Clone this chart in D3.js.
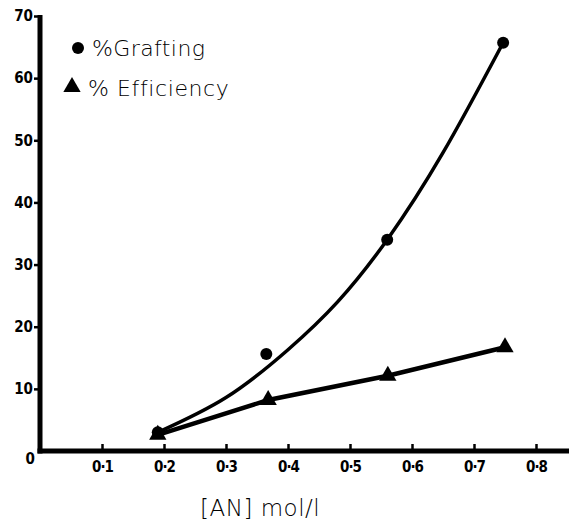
<!DOCTYPE html>
<html>
<head>
<meta charset="utf-8">
<script src="https://cdn.jsdelivr.net/npm/d3@7"></script>
<style>
  body { margin: 0; background: #fff; }
  .tick-label { font-family: "DejaVu Sans Condensed", "DejaVu Sans", sans-serif; font-weight: bold; }
  .legend, .xtitle { font-family: "DejaVu Sans", "Noto Sans", sans-serif; font-weight: 300; }
</style>
</head>
<body>
<div id="chart"></div>
<script>
// values
const anConc = [0.19, 0.365, 0.56, 0.747]
const grafting = [3, 15.6, 34, 65.7]
const effConc = [0.19, 0.368, 0.561, 0.75]
const efficiency = [2.6, 8.2, 12.1, 16.7]

// hand drawn trend curve for grafting
const fitConc = [0.19, 0.3, 0.4, 0.48, 0.56, 0.65, 0.747]
const fitGrafting = [3, 8.6, 16.3, 24.0, 34, 48, 65.7]

const xTicks = [0.1, 0.2, 0.3, 0.4, 0.5, 0.6, 0.7, 0.8]
const yTicks = [10, 20, 30, 40, 50, 60, 70]

const width = 569, height = 520

const svg = d3.select("#chart").append("svg")
  .attr("width", width)
  .attr("height", height)

const x = d3.scaleLinear().domain([0, 0.8]).range([40, 536])
const y = d3.scaleLinear().domain([0, 70]).range([451, 16])

// axes
const xAxis = d3.axisBottom(x)
  .tickValues(xTicks)
  .tickSize(-7)
  .tickPadding(10)
  .tickFormat(d => d3.format(".1f")(d).replace(".", "·"))

const gx = svg.append("g").attr("transform", `translate(0,${y(0)})`).call(xAxis)
gx.select(".domain").remove()
gx.selectAll(".tick line").attr("stroke", "#000").attr("stroke-width", 2.5)
gx.selectAll(".tick text").attr("class", "tick-label").attr("font-size", 15)
  .attr("letter-spacing", -1).attr("fill", "#000")
svg.append("line")
  .attr("x1", x(0) - 2.5).attr("x2", width)
  .attr("y1", y(0)).attr("y2", y(0))
  .attr("stroke", "#000").attr("stroke-width", 5)

const yAxis = d3.axisLeft(y)
  .tickValues(yTicks)
  .tickSize(6)
  .tickPadding(1)

const gy = svg.append("g").attr("transform", `translate(${x(0)},0)`).call(yAxis)
gy.select(".domain").remove()
gy.selectAll(".tick line").attr("stroke", "#000").attr("stroke-width", 2.5)
gy.selectAll(".tick text").attr("class", "tick-label").attr("font-size", 15).attr("fill", "#000")
svg.append("line")
  .attr("x1", x(0)).attr("x2", x(0))
  .attr("y1", y(0) + 2.5).attr("y2", y(70) - 1)
  .attr("stroke", "#000").attr("stroke-width", 5)

svg.append("text")
  .attr("class", "tick-label")
  .attr("x", x(0) - 5).attr("y", y(0) + 13)
  .attr("text-anchor", "end")
  .attr("font-size", 15)
  .text("0")

// grafting curve + points
const curve = d3.line()
  .x(d => x(d[0]))
  .y(d => y(d[1]))
  .curve(d3.curveNatural)

svg.append("path")
  .datum(d3.zip(fitConc, fitGrafting))
  .attr("d", curve)
  .attr("fill", "none")
  .attr("stroke", "#000")
  .attr("stroke-width", 3.5)

svg.selectAll(".graft")
  .data(d3.zip(anConc, grafting))
  .enter().append("circle")
  .attr("class", "graft")
  .attr("cx", d => x(d[0]))
  .attr("cy", d => y(d[1]))
  .attr("r", 6)
  .attr("fill", "#000")

// efficiency line + triangles
const line = d3.line()
  .x(d => x(d[0]))
  .y(d => y(d[1]))

svg.append("path")
  .datum(d3.zip(effConc, efficiency))
  .attr("d", line)
  .attr("fill", "none")
  .attr("stroke", "#000")
  .attr("stroke-width", 4.5)

const tri = d3.symbol().type(d3.symbolTriangle).size(130)
svg.selectAll(".eff")
  .data(d3.zip(effConc, efficiency))
  .enter().append("path")
  .attr("class", "eff")
  .attr("d", tri)
  .attr("transform", d => `translate(${x(d[0])},${y(d[1])})`)
  .attr("fill", "#000")

// legend
const legend = svg.append("g")
legend.append("circle").attr("cx", 78).attr("cy", 48).attr("r", 6).attr("fill", "#000")
legend.append("text").attr("class", "legend").attr("x", 92).attr("y", 56)
  .attr("font-size", 22).attr("letter-spacing", 0.4).text("%Grafting")
legend.append("path").attr("d", tri).attr("transform", "translate(72,87)").attr("fill", "#000")
legend.append("text").attr("class", "legend").attr("x", 88).attr("y", 96)
  .attr("font-size", 22).attr("letter-spacing", 0.6).text("% Efficiency")

svg.append("text")
  .attr("class", "xtitle")
  .attr("x", 200).attr("y", 516)
  .attr("font-size", 23)
  .attr("letter-spacing", 0.5)
  .text("[AN] mol/l")
</script>
</body>
</html>
